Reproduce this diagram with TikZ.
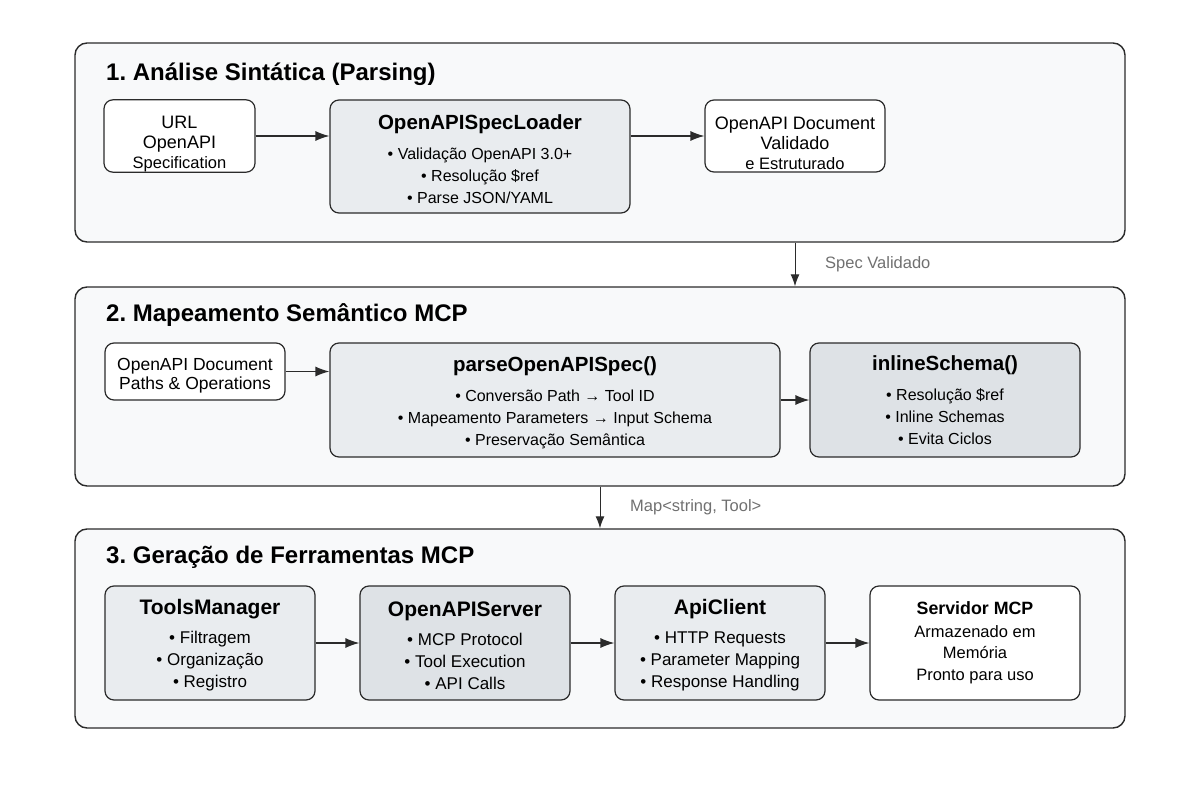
\documentclass[tikz,border=0pt]{standalone}
\usepackage{fontspec}
\setmainfont{Liberation Sans}
\usetikzlibrary{arrows.meta}

\definecolor{panelfill}{HTML}{F8F9FA}
\definecolor{boxlight}{HTML}{E9ECEF}
\definecolor{boxdark}{HTML}{DEE2E6}
\definecolor{linegray}{HTML}{2B2B2B}
\definecolor{labelgray}{HTML}{707070}

\newcommand{\fsz}[2]{\fontsize{#1}{#2}\selectfont}
% taller first line, pushes the text of a box down
\newcommand{\topgap}[1]{\rule{0pt}{#1}}
\frenchspacing

\begin{document}
\begin{tikzpicture}[x=1pt, y=-1pt,
    panel/.style={draw=linegray, line width=1.4pt, rounded corners=12pt, fill=panelfill,
        inner sep=0pt, minimum width=1050, minimum height=199},
    paneltitle/.style={anchor=base west, inner sep=0pt, font=\fsz{24}{26}\bfseries},
    box/.style={draw=linegray, line width=1.2pt, rounded corners=9pt, inner sep=0pt,
        align=center, font=\fsz{16}{22}},
    plainbox/.style={box, fill=white},
    lightbox/.style={box, fill=boxlight},
    darkbox/.style={box, fill=boxdark},
    flow/.style={draw=linegray, line width=1.2pt, -{Latex[length=14pt,width=10pt]}},
    handoff/.style={draw=linegray, line width=1pt, -{Latex[length=12pt,width=9pt]}},
    handofflabel/.style={anchor=west, inner sep=0pt, text=labelgray, font=\fsz{16.5}{18}}
]
\useasboundingbox (0,0) rectangle (1200,800);

% stage 1
\node[panel] (parsing) at (600,142.5) {};
\node[paneltitle] (parsingtitle) at (106,81) {1. Análise Sintática (Parsing)};
\node[plainbox, minimum width=151, minimum height=72, font=\fsz{18}{20}] (specurl) at (179.5,136)
    {\topgap{29pt}URL\\OpenAPI\\{\fsz{16.5}{18}Specification}};
\node[lightbox, minimum width=300, minimum height=113] (loader) at (480,156.5)
    {\topgap{20pt}{\fsz{20.5}{22}\bfseries OpenAPISpecLoader}\\[8pt]
     • Validação OpenAPI 3.0+\\
     • Resolução \$ref\\
     • Parse JSON/YAML};
\node[plainbox, minimum width=180, minimum height=72, font=\fsz{18}{20}] (validdoc) at (795,136)
    {\topgap{28pt}OpenAPI Document\\Validado\\{\fsz{16.5}{18}e Estruturado}};
\draw[flow] (specurl) -- (loader.west |- specurl);
\draw[flow] (loader.east |- validdoc) -- (validdoc);

% stage 2
\node[panel] (mapping) at (600,386.5) {};
\node[paneltitle] (mappingtitle) at (106,321) {2. Mapeamento Semântico MCP};
\node[plainbox, minimum width=180, minimum height=57, font=\fsz{17.5}{19}] (paths) at (195,371.5)
    {\topgap{20pt}OpenAPI Document\\Paths \& Operations};
\node[lightbox, minimum width=450, minimum height=114] (parsespec) at (555,400)
    {\topgap{20pt}{\fsz{20.5}{22}\bfseries parseOpenAPISpec()}\\[8pt]
     • Conversão Path → Tool ID\\
     • Mapeamento Parameters → Input Schema\\
     • Preservação Semântica};
\node[darkbox, minimum width=270, minimum height=114] (inline) at (945,400)
    {{\fsz{20.5}{22}\bfseries inlineSchema()}\\[8pt]
     • Resolução \$ref\\
     • Inline Schemas\\
     • Evita Ciclos};
\draw[flow] (paths) -- (parsespec.west |- paths);
\draw[flow] (parsespec) -- (inline);

% stage 3
\node[panel] (generation) at (600,628.5) {};
\node[paneltitle] (generationtitle) at (106,563) {3. Geração de Ferramentas MCP};
\node[lightbox, minimum width=210, minimum height=114, font=\fsz{17}{22}] (toolsmgr) at (210,643)
    {\topgap{20pt}{\fsz{21}{22}\bfseries ToolsManager}\\[7pt]
     • Filtragem\\
     • Organização\\
     • Registro};
\node[darkbox, minimum width=210, minimum height=114, font=\fsz{17}{22}] (apiserver) at (465,643)
    {\topgap{20pt}{\fsz{21}{22}\bfseries OpenAPIServer}\\[7pt]
     • MCP Protocol\\
     • Tool Execution\\
     • API Calls};
\node[lightbox, minimum width=210, minimum height=114, font=\fsz{17}{22}] (apiclient) at (720,643)
    {\topgap{20pt}{\fsz{21}{22}\bfseries ApiClient}\\[7pt]
     • HTTP Requests\\
     • Parameter Mapping\\
     • Response Handling};
\node[plainbox, minimum width=210, minimum height=114, font=\fsz{16.5}{21.5}] (mcpserver) at (975,643)
    {{\fsz{17.8}{21}\bfseries Servidor MCP}\\[1pt]
     Armazenado em\\
     Memória\\
     Pronto para uso};
\draw[flow] (toolsmgr) -- (apiserver);
\draw[flow] (apiserver) -- (apiclient);
\draw[flow] (apiclient) -- (mcpserver);

% hand-offs between stages
\draw[handoff] (validdoc |- parsing.south) -- (validdoc |- mapping.north);
\node[handofflabel] (speclabel) at (825,264) {Spec Validado};
\draw[handoff] (mapping.south) -- (generation.north);
\node[handofflabel] (maplabel) at (630,507) {Map<string, Tool>};
\end{tikzpicture}
\end{document}
